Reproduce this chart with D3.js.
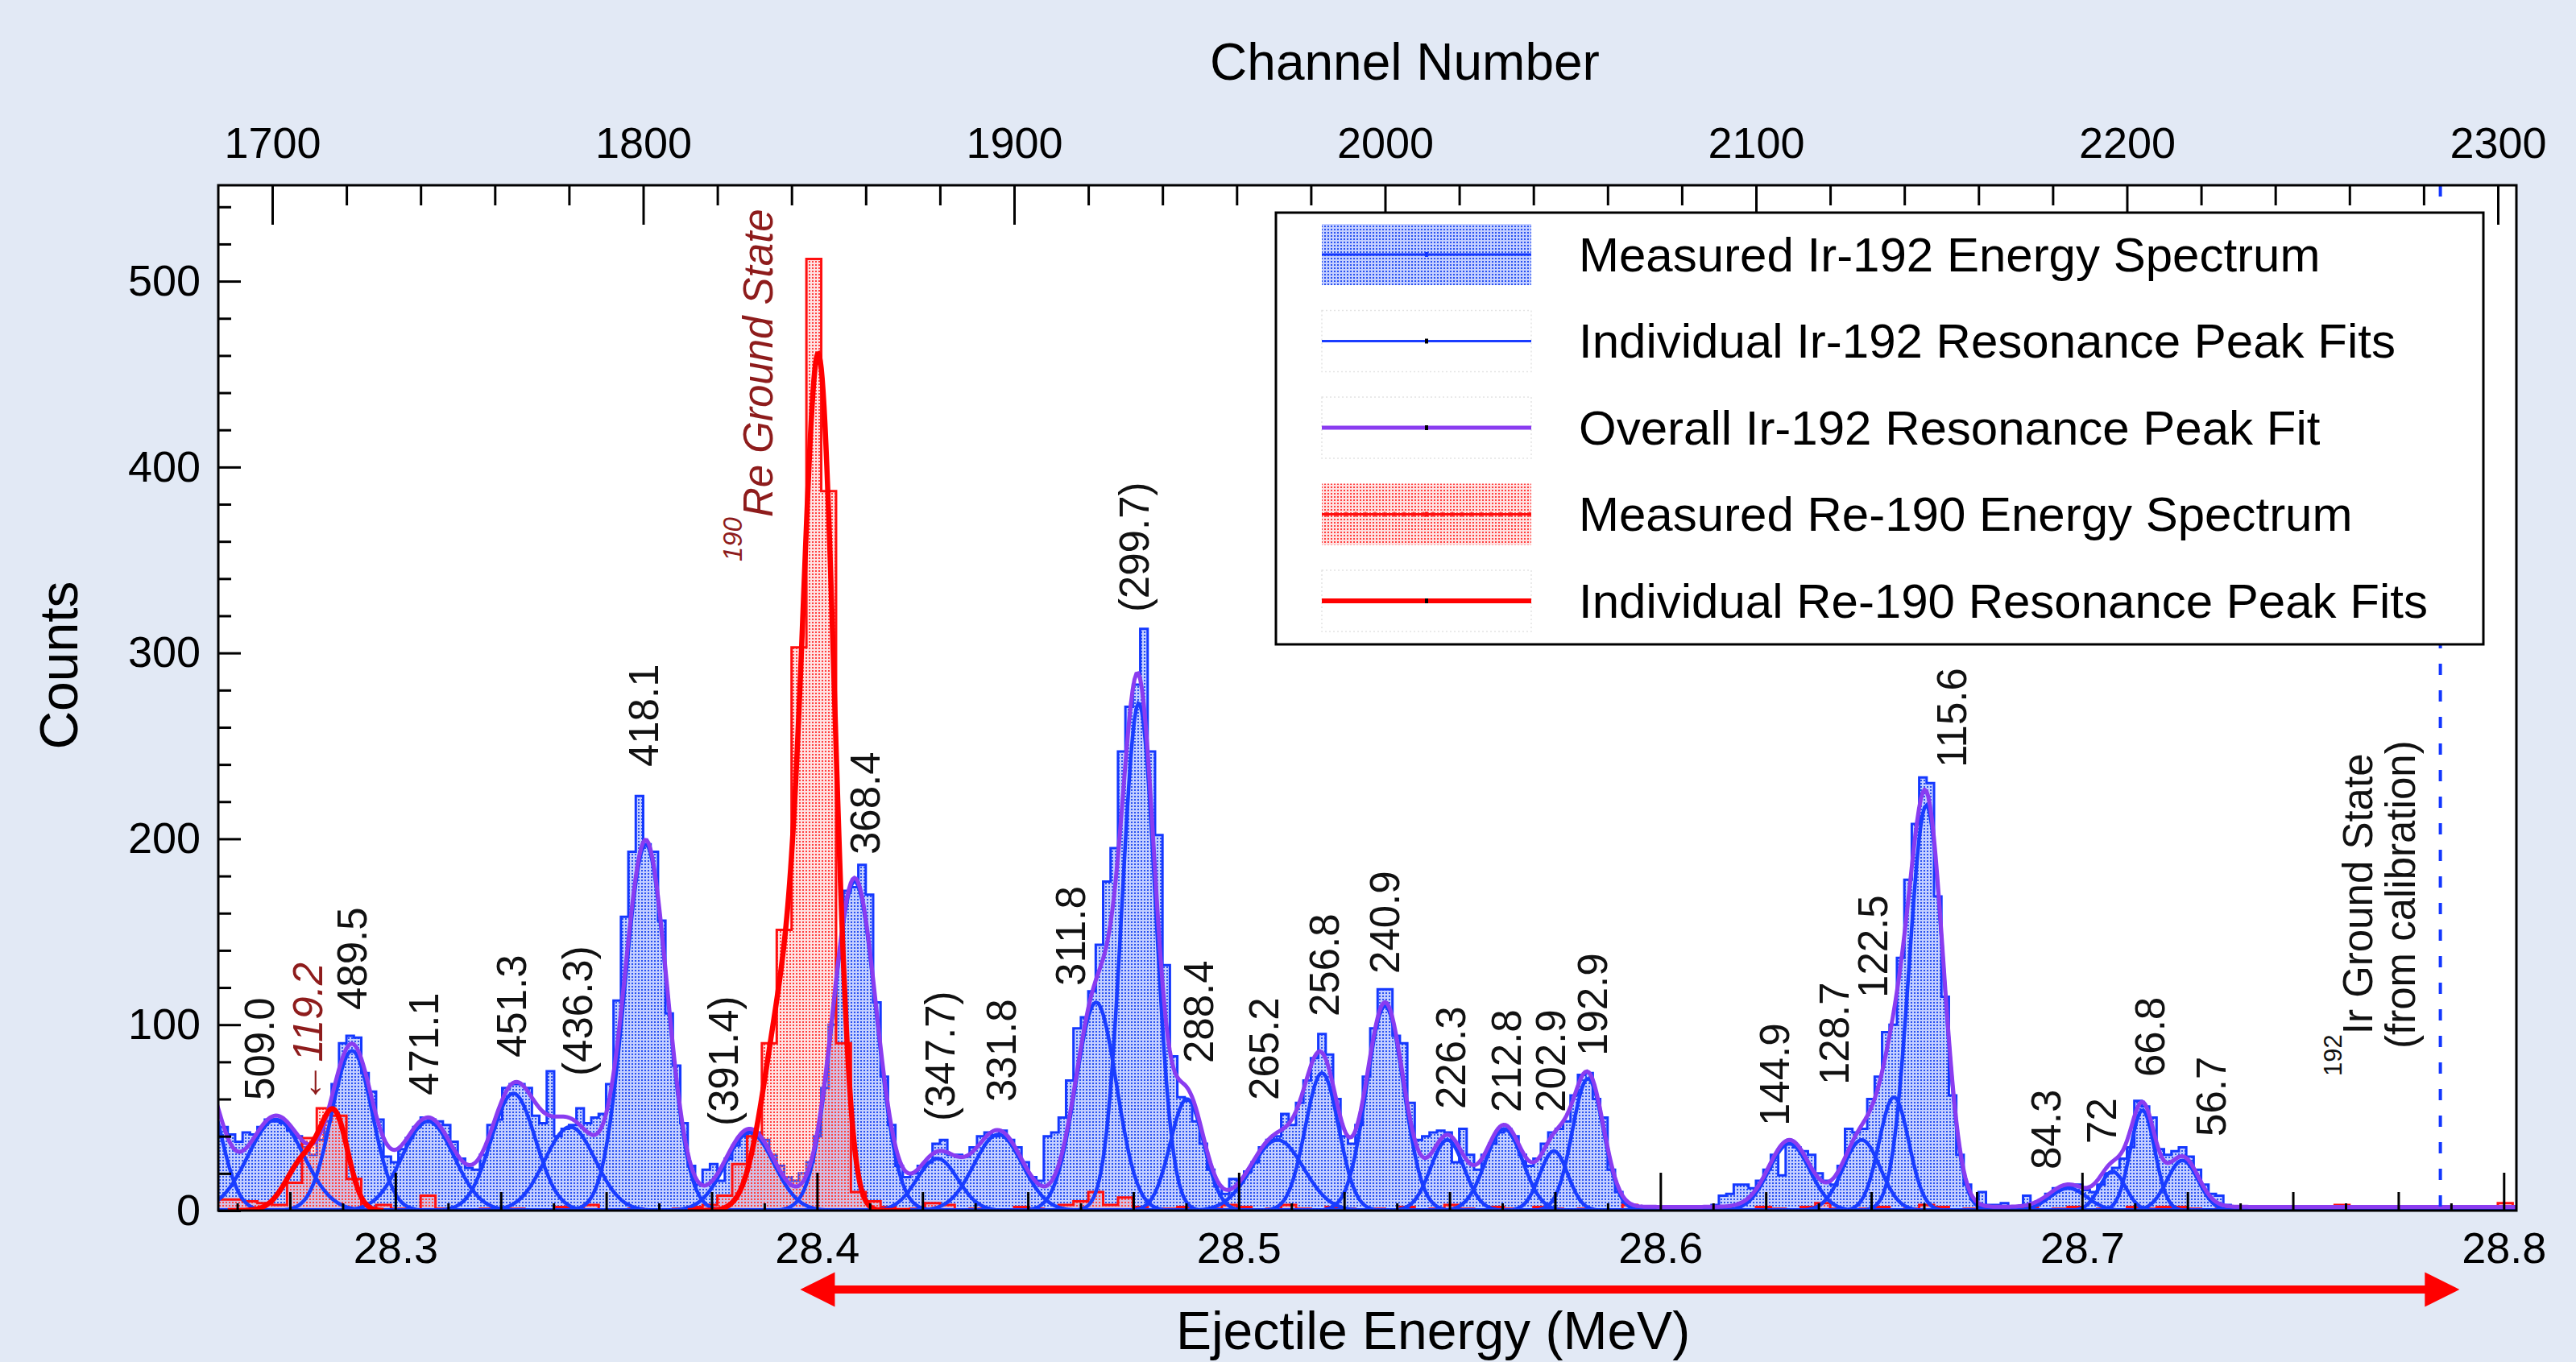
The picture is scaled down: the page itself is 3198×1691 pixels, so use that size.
<!DOCTYPE html>
<html>
<head>
<meta charset="utf-8">
<script src="https://cdn.jsdelivr.net/npm/d3@7"></script>
<style>
  html, body { margin: 0; padding: 0; background: #e2e9f5; }
  svg { display: block; }
</style>
</head>
<body>
<svg id="chart" width="3198" height="1691"></svg>
<script>
// ---- Measured Ir-192 spectrum: 2-channel bins starting at channel 1684
const irBinStart = 1684;
const irBinWidth = 2;
const irCounts = [
  43, 45, 41, 37, 42, 41, 45, 49, 48, 47,
  43, 40, 34, 30, 38, 48, 68, 90, 94, 93,
  74, 64, 49, 29, 26, 33, 39, 45, 50, 49,
  48, 46, 37, 28, 23, 22, 30, 46, 49, 66,
  68, 68, 66, 51, 47, 75, 40, 44, 46, 55,
  47, 50, 52, 68, 113, 158, 193, 223, 197, 193,
  156, 106, 78, 47, 24, 14, 22, 25, 16, 28,
  35, 40, 44, 42, 38, 30, 24, 18, 16, 20,
  26, 40, 66, 100, 136, 172, 174, 186, 170, 112,
  72, 46, 24, 18, 20, 24, 26, 36, 38, 30,
  30, 29, 34, 40, 42, 40, 43, 38, 34, 26,
  18, 16, 40, 42, 50, 70, 98, 104, 118, 143,
  177, 195, 247, 271, 283, 313, 247, 202, 132, 83,
  61, 59, 48, 36, 22, 13, 9, 17, 16, 21,
  26, 34, 38, 40, 52, 46, 58, 70, 82, 95,
  84, 60, 40, 36, 46, 72, 98, 119, 119, 94,
  90, 58, 38, 40, 42, 43, 42, 26, 44, 30,
  22, 30, 36, 42, 44, 40, 30, 24, 28, 36,
  42, 44, 48, 62, 73, 74, 60, 50, 22, 10,
  4, 1, 0, 0, 0, 0, 2, 0, 0, 2,
  2, 0, 3, 8, 9, 14, 14, 12, 16, 22,
  30, 19, 36, 34, 32, 30, 20, 16, 14, 24,
  44, 42, 44, 60, 72, 96, 100, 136, 178, 208,
  233, 230, 169, 115, 62, 30, 14, 6, 10, 3,
  3, 4, 2, 1, 8, 4, 5, 9, 12, 13,
  13, 14, 11, 10, 14, 20, 23, 28, 34, 59,
  56, 50, 33, 30, 32, 34, 29, 22, 14, 9,
  8, 3, 1, 0, 0, 0, 0, 0, 0, 0,
  0, 0, 0, 1, 0, 0, 0, 0, 0, 0,
  0, 0, 0, 0, 0, 1, 0, 0, 0, 0,
  0, 0, 0, 0, 0, 0, 0, 0, 0, 1,
  0
];

// ---- Measured Re-190 spectrum: 4-channel bins starting at channel 1684
const reBinStart = 1684;
const reBinWidth = 4;
const reCounts = [
  6, 6, 5, 4, 3, 15, 39, 55, 51, 17,
  0, 3, 1, 0, 8, 1, 0, 0, 1, 0,
  1, 0, 0, 2, 0, 3, 0, 0, 1, 0,
  0, 1, 2, 3, 8, 25, 40, 90, 151, 303,
  512, 387, 90, 10, 5, 2, 0, 1, 4, 3,
  0, 1, 0, 0, 2, 1, 0, 3, 5, 10,
  3, 7, 2, 0, 1, 2, 0, 1, 3, 2,
  0, 1, 3, 1, 0, 2, 1, 0, 1, 0,
  2, 0, 1, 3, 1, 0, 2, 1, 0, 2,
  1, 0, 1, 0, 0, 3, 2, 0, 1, 0,
  2, 0, 1, 0, 2, 1, 0, 2, 4, 1,
  0, 1, 2, 0, 1, 3, 2, 0, 1, 2,
  0, 1, 2, 0, 1, 2, 0, 1, 0, 2,
  1, 2, 2, 1, 0, 1, 0, 2, 0, 1,
  0, 0, 2, 3, 0, 1, 0, 0, 1, 0,
  0, 1, 0, 2, 4, 2
];

// ---- Ir-192 resonance peak fits (Gaussian parameters, channel units)
const irCentroid  = [1681, 1701, 1721.5, 1742, 1765, 1780.3, 1800.7, 1828.7, 1857, 1879.3,
                     1895.7, 1922.1, 1933.6, 1946.6, 1971, 1983, 2000, 2016.8, 2032.1, 2045.5,
                     2054.7, 2109, 2128.5, 2137.2, 2145.9, 2184.2, 2196.1, 2204.2, 2215];
const irAmplitude = [70, 49, 86, 48, 63, 45, 197, 42, 177, 28,
                     41, 112, 273, 60, 38, 74, 110, 38, 44, 32,
                     71, 36, 38, 61, 218, 12, 21, 54, 27];
const irSigma     = [5, 7.5, 5.5, 7, 6, 6.8, 5.7, 6.5, 5.8, 5.5,
                     6.5, 5.5, 4.5, 4.5, 7, 4.5, 5, 4.5, 5, 3.8,
                     4.2, 5.5, 5, 4, 4.6, 5, 3.5, 3.3, 4.2];
const irBackground = 2;

// ---- Re-190 resonance peak fits: each fit is a sum of Gaussians over a range
const reFitRanges = [[1688, 1730], [1812, 1872]];
const reFitCentroid  = [[1717, 1709], [1847.5, 1838]];
const reFitAmplitude = [[46, 28], [435, 110]];
const reFitSigma     = [[3.6, 5], [4.2, 5.5]];

// ---- Excitation energy labels (keV), anchored at channel / counts
const peakLabelText = ['509.0', '489.5', '471.1', '451.3', '(436.3)', '418.1', '(391.4)', '368.4',
  '(347.7)', '331.8', '311.8', '(299.7)', '288.4', '265.2', '256.8', '240.9', '226.3', '212.8',
  '202.9', '192.9', '144.9', '128.7', '122.5', '115.6', '84.3', '72', '66.8', '56.7'];
const peakLabelChannel = [1696.7, 1721.5, 1741.0, 1764.7, 1782.5, 1800.3, 1821.8, 1860.0,
  1880.2, 1896.6, 1915.3, 1932.4, 1949.9, 1967.5, 1983.8, 1999.9, 2017.8, 2032.7,
  2044.8, 2056.1, 2105.2, 2121.1, 2131.7, 2152.8, 2178.2, 2193.2, 2206.4, 2222.7];
const peakLabelCount = [59.4, 107.9, 62, 82.3, 72.4, 238.7, 45.5, 191.5,
  48.1, 58.5, 120.9, 321.9, 79.3, 59.4, 104.4, 127.4, 54.6, 52.9,
  52.9, 83.2, 45.5, 67.6, 114.4, 238.3, 22.1, 36, 71.9, 39.9];

const reLabel = { text: '\u2190119.2', channel: 1709.6, count: 57.8 };
const reGroundLabel = { sup: '190', text: 'Re Ground State', channel: 1834.9, count: 349.2 };
const irGroundLabel = { sup: '192', line1: 'Ir Ground State', line2: '(from calibration)',
  channel1: 2266.1, count1: 72.4, channel2: 2277.6, count2: 87.1 };
const irGroundChannel = 2284.5;
const arrowEnergy = [28.396, 28.7895];

// ---- Axes
const channelDomain = [1685.45, 2305.0];
const energyDomain = [28.258, 28.803];
const countDomain = [0, 551.6];
const channelTicks = [1700, 1800, 1900, 2000, 2100, 2200, 2300];
const countTicks = [0, 100, 200, 300, 400, 500];
const energyTicks = [28.3, 28.4, 28.5, 28.6, 28.7, 28.8];

const legendLabels = ['Measured Ir-192 Energy Spectrum', 'Individual Ir-192 Resonance Peak Fits',
  'Overall Ir-192 Resonance Peak Fit', 'Measured Re-190 Energy Spectrum',
  'Individual Re-190 Resonance Peak Fits'];

// ---------------------------------------------------------------------------
const FONT = '"Liberation Sans", Arial, Helvetica, sans-serif';
const plot = { left: 271, right: 3124, top: 230, bottom: 1503 };
const colors = {
  irLine: '#1438ff', irFit: '#1a3dff', overall: '#8a3cf0',
  reLine: '#ff1010', reFit: '#ff0000', darkRed: '#8e1c1c'
};

const svg = d3.select('#chart').attr('font-family', FONT);

const x = d3.scaleLinear().domain(channelDomain).range([plot.left, plot.right]);
const xE = d3.scaleLinear().domain(energyDomain).range([plot.left, plot.right]);
const y = d3.scaleLinear().domain(countDomain).range([plot.bottom, plot.top]);

// Dotted fill patterns, similar to ROOT's fill style
const defs = svg.append('defs');
function dotPattern(id, bg, dot) {
  const p = defs.append('pattern').attr('id', id)
    .attr('width', 4).attr('height', 4).attr('patternUnits', 'userSpaceOnUse');
  p.append('rect').attr('width', 4).attr('height', 4).attr('fill', bg);
  p.append('rect').attr('width', 2).attr('height', 2).attr('fill', dot);
}
dotPattern('irPattern', 'rgba(100,130,255,0.38)', '#2a52f0');
dotPattern('rePattern', 'rgba(255,140,140,0.25)', '#ff4040');

defs.append('clipPath').attr('id', 'plotClip')
  .append('rect')
  .attr('x', plot.left).attr('y', plot.top)
  .attr('width', plot.right - plot.left).attr('height', plot.bottom - plot.top);

svg.append('rect')
  .attr('x', plot.left).attr('y', plot.top)
  .attr('width', plot.right - plot.left).attr('height', plot.bottom - plot.top)
  .attr('fill', '#fff');

const dataLayer = svg.append('g').attr('clip-path', 'url(#plotClip)');

// Histograms as step areas
function binPoints(counts, start, width) {
  const pts = counts.map((c, i) => [start + i * width, c]);
  pts.push([start + counts.length * width, counts[counts.length - 1]]);
  return pts;
}
const stepArea = d3.area()
  .curve(d3.curveStepAfter)
  .x(d => x(d[0]))
  .y0(y(0))
  .y1(d => y(d[1]));

dataLayer.append('path')
  .attr('d', stepArea(binPoints(irCounts, irBinStart, irBinWidth)))
  .attr('fill', 'url(#irPattern)')
  .attr('stroke', colors.irLine)
  .attr('stroke-width', 3);

dataLayer.append('path')
  .attr('d', stepArea(binPoints(reCounts, reBinStart, reBinWidth)))
  .attr('fill', 'url(#rePattern)')
  .attr('stroke', colors.reLine)
  .attr('stroke-width', 3);

// Fit curves
const gauss = (c, mu, amp, sig) => amp * Math.exp(-((c - mu) ** 2) / (2 * sig * sig));
const fitLine = d3.line().x(d => x(d[0])).y(d => y(d[1]));
const fullRange = d3.range(channelDomain[0] - 1, channelDomain[1] + 1, 0.5);

irCentroid.forEach((mu, i) => {
  const pts = fullRange.map(c => [c, gauss(c, mu, irAmplitude[i], irSigma[i])]);
  dataLayer.append('path')
    .attr('d', fitLine(pts))
    .attr('fill', 'none')
    .attr('stroke', colors.irFit)
    .attr('stroke-width', 4.5);
});

const overallPts = fullRange.map(c => {
  let v = irBackground;
  irCentroid.forEach((mu, i) => { v += gauss(c, mu, irAmplitude[i], irSigma[i]); });
  return [c, v];
});
dataLayer.append('path')
  .attr('d', fitLine(overallPts))
  .attr('fill', 'none')
  .attr('stroke', colors.overall)
  .attr('stroke-width', 5);

reFitRanges.forEach((range, k) => {
  const pts = d3.range(range[0], range[1] + 0.25, 0.25).map(c => {
    let v = 0;
    reFitCentroid[k].forEach((mu, j) => { v += gauss(c, mu, reFitAmplitude[k][j], reFitSigma[k][j]); });
    return [c, v];
  });
  dataLayer.append('path')
    .attr('d', fitLine(pts))
    .attr('fill', 'none')
    .attr('stroke', colors.reFit)
    .attr('stroke-width', 6.5);
});

// Ir-192 ground state marker
dataLayer.append('line')
  .attr('x1', x(irGroundChannel)).attr('x2', x(irGroundChannel))
  .attr('y1', plot.top).attr('y2', plot.bottom)
  .attr('stroke', '#1236ff')
  .attr('stroke-width', 4)
  .attr('stroke-dasharray', '14,19');

// ---- Axes
function styleAxis(g, fontSize) {
  g.attr('font-family', FONT);
  g.select('.domain').remove();
  g.selectAll('.tick line').attr('stroke', '#000').attr('stroke-width', 3);
  g.selectAll('.tick text').attr('fill', '#000').attr('font-size', fontSize);
}

const channelMinor = d3.range(1700, 2305, 20).filter(v => v % 100 !== 0);
const countMinor = d3.range(20, 551, 20).filter(v => v % 100 !== 0);
const energyMinor = d3.range(0, 22).map(i => 28.275 + i * 0.025).filter(v => Math.abs(v * 10 - Math.round(v * 10)) > 1e-6 && v < 28.803);
const energyTiny = d3.range(0, 44).map(i => 28.2625 + i * 0.025).filter(v => v < 28.803);

svg.append('g').attr('transform', `translate(0,${plot.top})`)
  .call(d3.axisTop(x).tickValues(channelMinor).tickSize(-25).tickFormat(() => ''))
  .call(g => styleAxis(g, 0));
svg.append('g').attr('transform', `translate(0,${plot.top})`)
  .call(d3.axisTop(x).tickValues(channelTicks).tickSize(-49).tickPadding(34).tickFormat(d3.format('d')))
  .call(g => styleAxis(g, 54));

svg.append('g').attr('transform', `translate(0,${plot.bottom})`)
  .call(d3.axisBottom(xE).tickValues(energyTiny).tickSize(-9).tickFormat(() => ''))
  .call(g => styleAxis(g, 0));
svg.append('g').attr('transform', `translate(0,${plot.bottom})`)
  .call(d3.axisBottom(xE).tickValues(energyMinor).tickSize(-23).tickFormat(() => ''))
  .call(g => styleAxis(g, 0));
svg.append('g').attr('transform', `translate(0,${plot.bottom})`)
  .call(d3.axisBottom(xE).tickValues(energyTicks).tickSize(-47).tickPadding(27).tickFormat(d3.format('.1f')))
  .call(g => styleAxis(g, 54));

svg.append('g').attr('transform', `translate(${plot.left},0)`)
  .call(d3.axisLeft(y).tickValues(countMinor).tickSize(-16).tickFormat(() => ''))
  .call(g => styleAxis(g, 0));
svg.append('g').attr('transform', `translate(${plot.left},0)`)
  .call(d3.axisLeft(y).tickValues(countTicks).tickSize(-28).tickPadding(22).tickFormat(d3.format('d')))
  .call(g => styleAxis(g, 54));

svg.append('rect')
  .attr('x', plot.left).attr('y', plot.top)
  .attr('width', plot.right - plot.left).attr('height', plot.bottom - plot.top)
  .attr('fill', 'none').attr('stroke', '#000').attr('stroke-width', 3);

// Axis titles
svg.append('text').attr('x', 1744).attr('y', 99)
  .attr('text-anchor', 'middle').attr('font-size', 64).text('Channel Number');
svg.append('text').attr('x', 1779).attr('y', 1675)
  .attr('text-anchor', 'middle').attr('font-size', 66).text('Ejectile Energy (MeV)');
svg.append('text').attr('transform', 'translate(73,826) rotate(-90)')
  .attr('text-anchor', 'middle').attr('dominant-baseline', 'central')
  .attr('font-size', 66).text('Counts');

// ---- Peak labels
const labels = svg.append('g').attr('font-size', 51).attr('fill', '#111');
peakLabelText.forEach((t, i) => {
  labels.append('text')
    .attr('transform', `translate(${x(peakLabelChannel[i])},${y(peakLabelCount[i])}) rotate(-90)`)
    .attr('dominant-baseline', 'central')
    .text(t);
});

svg.append('text')
  .attr('transform', `translate(${x(reLabel.channel)},${y(reLabel.count)}) rotate(-90)`)
  .attr('dominant-baseline', 'central')
  .attr('font-size', 51).attr('font-style', 'italic').attr('fill', colors.darkRed)
  .text(reLabel.text);

const reGs = svg.append('text')
  .attr('transform', `translate(${x(reGroundLabel.channel)},${y(reGroundLabel.count)}) rotate(-90)`)
  .attr('font-size', 51).attr('font-style', 'italic').attr('fill', colors.darkRed);
reGs.append('tspan').attr('font-size', 33).attr('dy', -38).text(reGroundLabel.sup);
reGs.append('tspan').attr('dy', 38).text(reGroundLabel.text);

const irGs = svg.append('text')
  .attr('transform', `translate(${x(irGroundLabel.channel1)},${y(irGroundLabel.count1)}) rotate(-90)`)
  .attr('font-size', 51).attr('fill', '#111');
irGs.append('tspan').attr('font-size', 31).attr('dy', -38).text(irGroundLabel.sup);
irGs.append('tspan').attr('dy', 38).text(irGroundLabel.line1);
svg.append('text')
  .attr('transform', `translate(${x(irGroundLabel.channel2)},${y(irGroundLabel.count2)}) rotate(-90)`)
  .attr('font-size', 51).attr('fill', '#111')
  .text(irGroundLabel.line2);

// ---- Red double arrow under the energy axis
const arrowY = 1601;
const ax0 = xE(arrowEnergy[0]), ax1 = xE(arrowEnergy[1]);
const head = 43, half = 21.5;
const arrow = svg.append('g').attr('fill', '#ff0000');
arrow.append('rect').attr('x', ax0 + head - 2).attr('y', arrowY - 5)
  .attr('width', ax1 - ax0 - 2 * head + 4).attr('height', 10);
arrow.append('path').attr('d', `M${ax0},${arrowY}L${ax0 + head},${arrowY - half}L${ax0 + head},${arrowY + half}Z`);
arrow.append('path').attr('d', `M${ax1},${arrowY}L${ax1 - head},${arrowY - half}L${ax1 - head},${arrowY + half}Z`);

// ---- Legend
const legend = svg.append('g');
legend.append('rect')
  .attr('x', 1584).attr('y', 264).attr('width', 1499).attr('height', 536)
  .attr('fill', '#fff').attr('stroke', '#000').attr('stroke-width', 3);

const symX = 1641, symW = 260, rowY0 = 316, rowStep = 107.5;
const legendStyle = [
  { fill: 'url(#irPattern)', line: colors.irLine, width: 3, ticks: false },
  { fill: null, line: colors.irFit, width: 3, ticks: false },
  { fill: null, line: colors.overall, width: 5, ticks: false },
  { fill: 'url(#rePattern)', line: colors.reLine, width: 3, ticks: true },
  { fill: null, line: colors.reFit, width: 6, ticks: false }
];
legendLabels.forEach((label, i) => {
  const cy = rowY0 + i * rowStep;
  const s = legendStyle[i];
  const box = legend.append('rect')
    .attr('x', symX).attr('y', cy - 38).attr('width', symW).attr('height', 76);
  if (s.fill) {
    box.attr('fill', s.fill);
  } else {
    box.attr('fill', 'none').attr('stroke', '#e4e4e4').attr('stroke-width', 1.5)
      .attr('stroke-dasharray', '2,3');
  }
  legend.append('line')
    .attr('x1', symX).attr('x2', symX + symW).attr('y1', cy).attr('y2', cy)
    .attr('stroke', s.line).attr('stroke-width', s.width);
  if (s.ticks) {
    d3.range(symX + 6, symX + symW, 12).forEach(tx => {
      legend.append('line').attr('x1', tx).attr('x2', tx).attr('y1', cy - 3).attr('y2', cy + 3)
        .attr('stroke', s.line).attr('stroke-width', 1.5);
    });
  }
  legend.append('rect').attr('x', symX + symW / 2 - 2).attr('y', cy - 3).attr('width', 4).attr('height', 6)
    .attr('fill', i === 3 ? colors.reLine : (i === 0 ? colors.irLine : '#000'));
  legend.append('text')
    .attr('x', 1960).attr('y', cy)
    .attr('dominant-baseline', 'central')
    .attr('font-size', 60).attr('fill', '#000')
    .text(label);
});
</script>
</body>
</html>
